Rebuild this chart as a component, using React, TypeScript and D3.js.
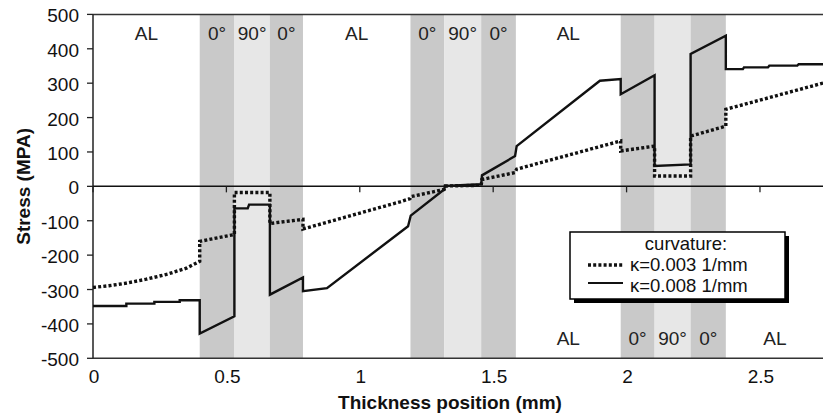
import React from "react";
import * as d3 from "d3";

// ---- data ----
const layerBounds = [0, 0.4, 0.53, 0.663, 0.787, 1.19, 1.316, 1.455, 1.585, 1.978, 2.105, 2.24, 2.372, 2.74];
const layerTypes = ["AL", "0°", "90°", "0°", "AL", "0°", "90°", "0°", "AL", "0°", "90°", "0°", "AL"];
const topLabelLayers = [0, 1, 2, 3, 4, 5, 6, 7, 8];
const bottomLabelLayers = [8, 9, 10, 11, 12];

const xTicks = [0, 0.5, 1, 1.5, 2, 2.5];
const xTickLabels = ["0", "0.5", "1", "1.5", "2", "2.5"];
const yTicks = [-500, -400, -300, -200, -100, 0, 100, 200, 300, 400, 500];

// kappa = 0.003 1/mm (dotted)
const kappa003: [number, number][] = [
  [0, -294], [0.06, -289], [0.12, -282], [0.2, -270], [0.28, -255], [0.35, -238], [0.4, -218],
  [0.4, -160], [0.53, -140], [0.53, -18], [0.663, -18], [0.663, -108], [0.787, -96],
  [0.787, -124], [1.151, -45], [1.188, -36], [1.191, -30], [1.316, -9], [1.32, 1], [1.455, 3],
  [1.458, 20], [1.582, 40], [1.588, 50], [1.978, 132], [1.978, 103], [2.105, 117],
  [2.105, 30], [2.24, 30], [2.24, 146], [2.372, 175], [2.372, 224], [2.74, 301],
];

// kappa = 0.008 1/mm (solid)
const kappa008: [number, number][] = [
  [0, -348], [0.125, -348], [0.125, -341], [0.23, -341], [0.23, -336], [0.325, -336], [0.325, -331],
  [0.4, -331], [0.4, -428], [0.53, -378], [0.53, -64], [0.58, -64], [0.585, -53], [0.663, -53],
  [0.663, -315], [0.787, -265], [0.787, -305], [0.877, -296], [1.181, -116], [1.191, -85],
  [1.316, -9], [1.32, 1], [1.455, 6], [1.458, 32], [1.582, 88], [1.588, 117], [1.9, 307],
  [1.978, 312], [1.978, 268], [2.105, 323], [2.105, 59], [2.24, 64], [2.24, 385], [2.372, 438],
  [2.372, 341], [2.436, 341], [2.44, 346], [2.53, 346], [2.535, 351], [2.64, 351], [2.645, 355],
  [2.74, 355],
];

const legendTitle = "curvature:";
const legendLabels = ["κ=0.003 1/mm", "κ=0.008 1/mm"];

const FONT = "'Liberation Sans', Arial, sans-serif";

export default function App() {
  const W = 823, H = 418;
  const x = d3.scaleLinear().domain([0, 2.74]).range([93, 824]);
  const y = d3.scaleLinear().domain([-500, 500]).range([358.3, 14.4]);
  const line = d3.line<[number, number]>().x(d => x(d[0])).y(d => y(d[1]));
  const top = y(500), bottom = y(-500), left = x(0), right = x(2.74);

  const bandFill = (t: string) => (t === "0°" ? "#c9c9c9" : t === "90°" ? "#e7e7e7" : "none");

  return (
    <svg width={W} height={H} style={{ position: "absolute", left: 0, top: 0, background: "#fff" }} fontFamily={FONT}>
      {/* layer bands */}
      {layerTypes.map((t, i) =>
        t === "AL" ? null : (
          <rect key={"b" + i} x={x(layerBounds[i])} y={top} width={x(layerBounds[i + 1]) - x(layerBounds[i])}
            height={bottom - top} fill={bandFill(t)} />
        )
      )}
      {/* borders */}
      <line x1={left} x2={right} y1={top} y2={top} stroke="#333" strokeWidth={1.5} />
      <line x1={left} x2={right} y1={bottom} y2={bottom} stroke="#333" strokeWidth={1.5} />
      <line x1={left} x2={left} y1={top} y2={bottom} stroke="#222" strokeWidth={1.5} />
      <line x1={left} x2={right} y1={y(0)} y2={y(0)} stroke="#111" strokeWidth={1.5} />

      {/* y ticks */}
      {yTicks.map(v => (
        <g key={"y" + v}>
          <line x1={left - 6} x2={left} y1={y(v)} y2={y(v)} stroke="#222" strokeWidth={1.3} />
          <text x={79} y={y(v) + 8} textAnchor="end" fontSize={19} fill="#111">{v}</text>
        </g>
      ))}
      {/* x ticks */}
      {xTicks.map((v, i) => (
        <g key={"x" + v}>
          <line x1={x(v)} x2={x(v)} y1={y(0)} y2={y(0) + 6} stroke="#222" strokeWidth={1.3} />
          <text x={x(v) + 1} y={383} textAnchor="middle" fontSize={19} fill="#111">{xTickLabels[i]}</text>
        </g>
      ))}

      {/* layer labels */}
      {topLabelLayers.map(i => (
        <text key={"t" + i} x={x((layerBounds[i] + layerBounds[i + 1]) / 2)} y={40} textAnchor="middle" fontSize={19} fill="#222">
          {layerTypes[i]}
        </text>
      ))}
      {bottomLabelLayers.map(i => (
        <text key={"bl" + i} x={x((layerBounds[i] + layerBounds[i + 1]) / 2)} y={345} textAnchor="middle" fontSize={19} fill="#222">
          {layerTypes[i]}
        </text>
      ))}

      {/* curves */}
      <path d={line(kappa003) || ""} fill="none" stroke="#111" strokeWidth={3.4} strokeDasharray="3 2.2" />
      <path d={line(kappa008) || ""} fill="none" stroke="#111" strokeWidth={2.4} strokeLinejoin="miter" />

      {/* axis titles */}
      <text x={450} y={409} textAnchor="middle" fontSize={19} fontWeight="bold" fill="#111">Thickness position (mm)</text>
      <text transform={`translate(30,${(top + bottom) / 2}) rotate(-90)`} textAnchor="middle" fontSize={19} fontWeight="bold" fill="#111">
        Stress (MPA)
      </text>

      {/* legend */}
      <rect x={574} y={236} width={215} height={67} fill="#000" />
      <rect x={570} y={232} width={215} height={67} fill="#fff" stroke="#000" strokeWidth={1.5} />
      <text x={686} y={250} textAnchor="middle" fontSize={18.5} fill="#111">{legendTitle}</text>
      <line x1={588} x2={623} y1={265} y2={265} stroke="#111" strokeWidth={3.4} strokeDasharray="3 2.2" />
      <text x={630} y={271} fontSize={18.5} fill="#111">{legendLabels[0]}</text>
      <line x1={588} x2={623} y1={283} y2={283} stroke="#111" strokeWidth={1.8} />
      <text x={630} y={292} fontSize={18.5} fill="#111">{legendLabels[1]}</text>
    </svg>
  );
}
